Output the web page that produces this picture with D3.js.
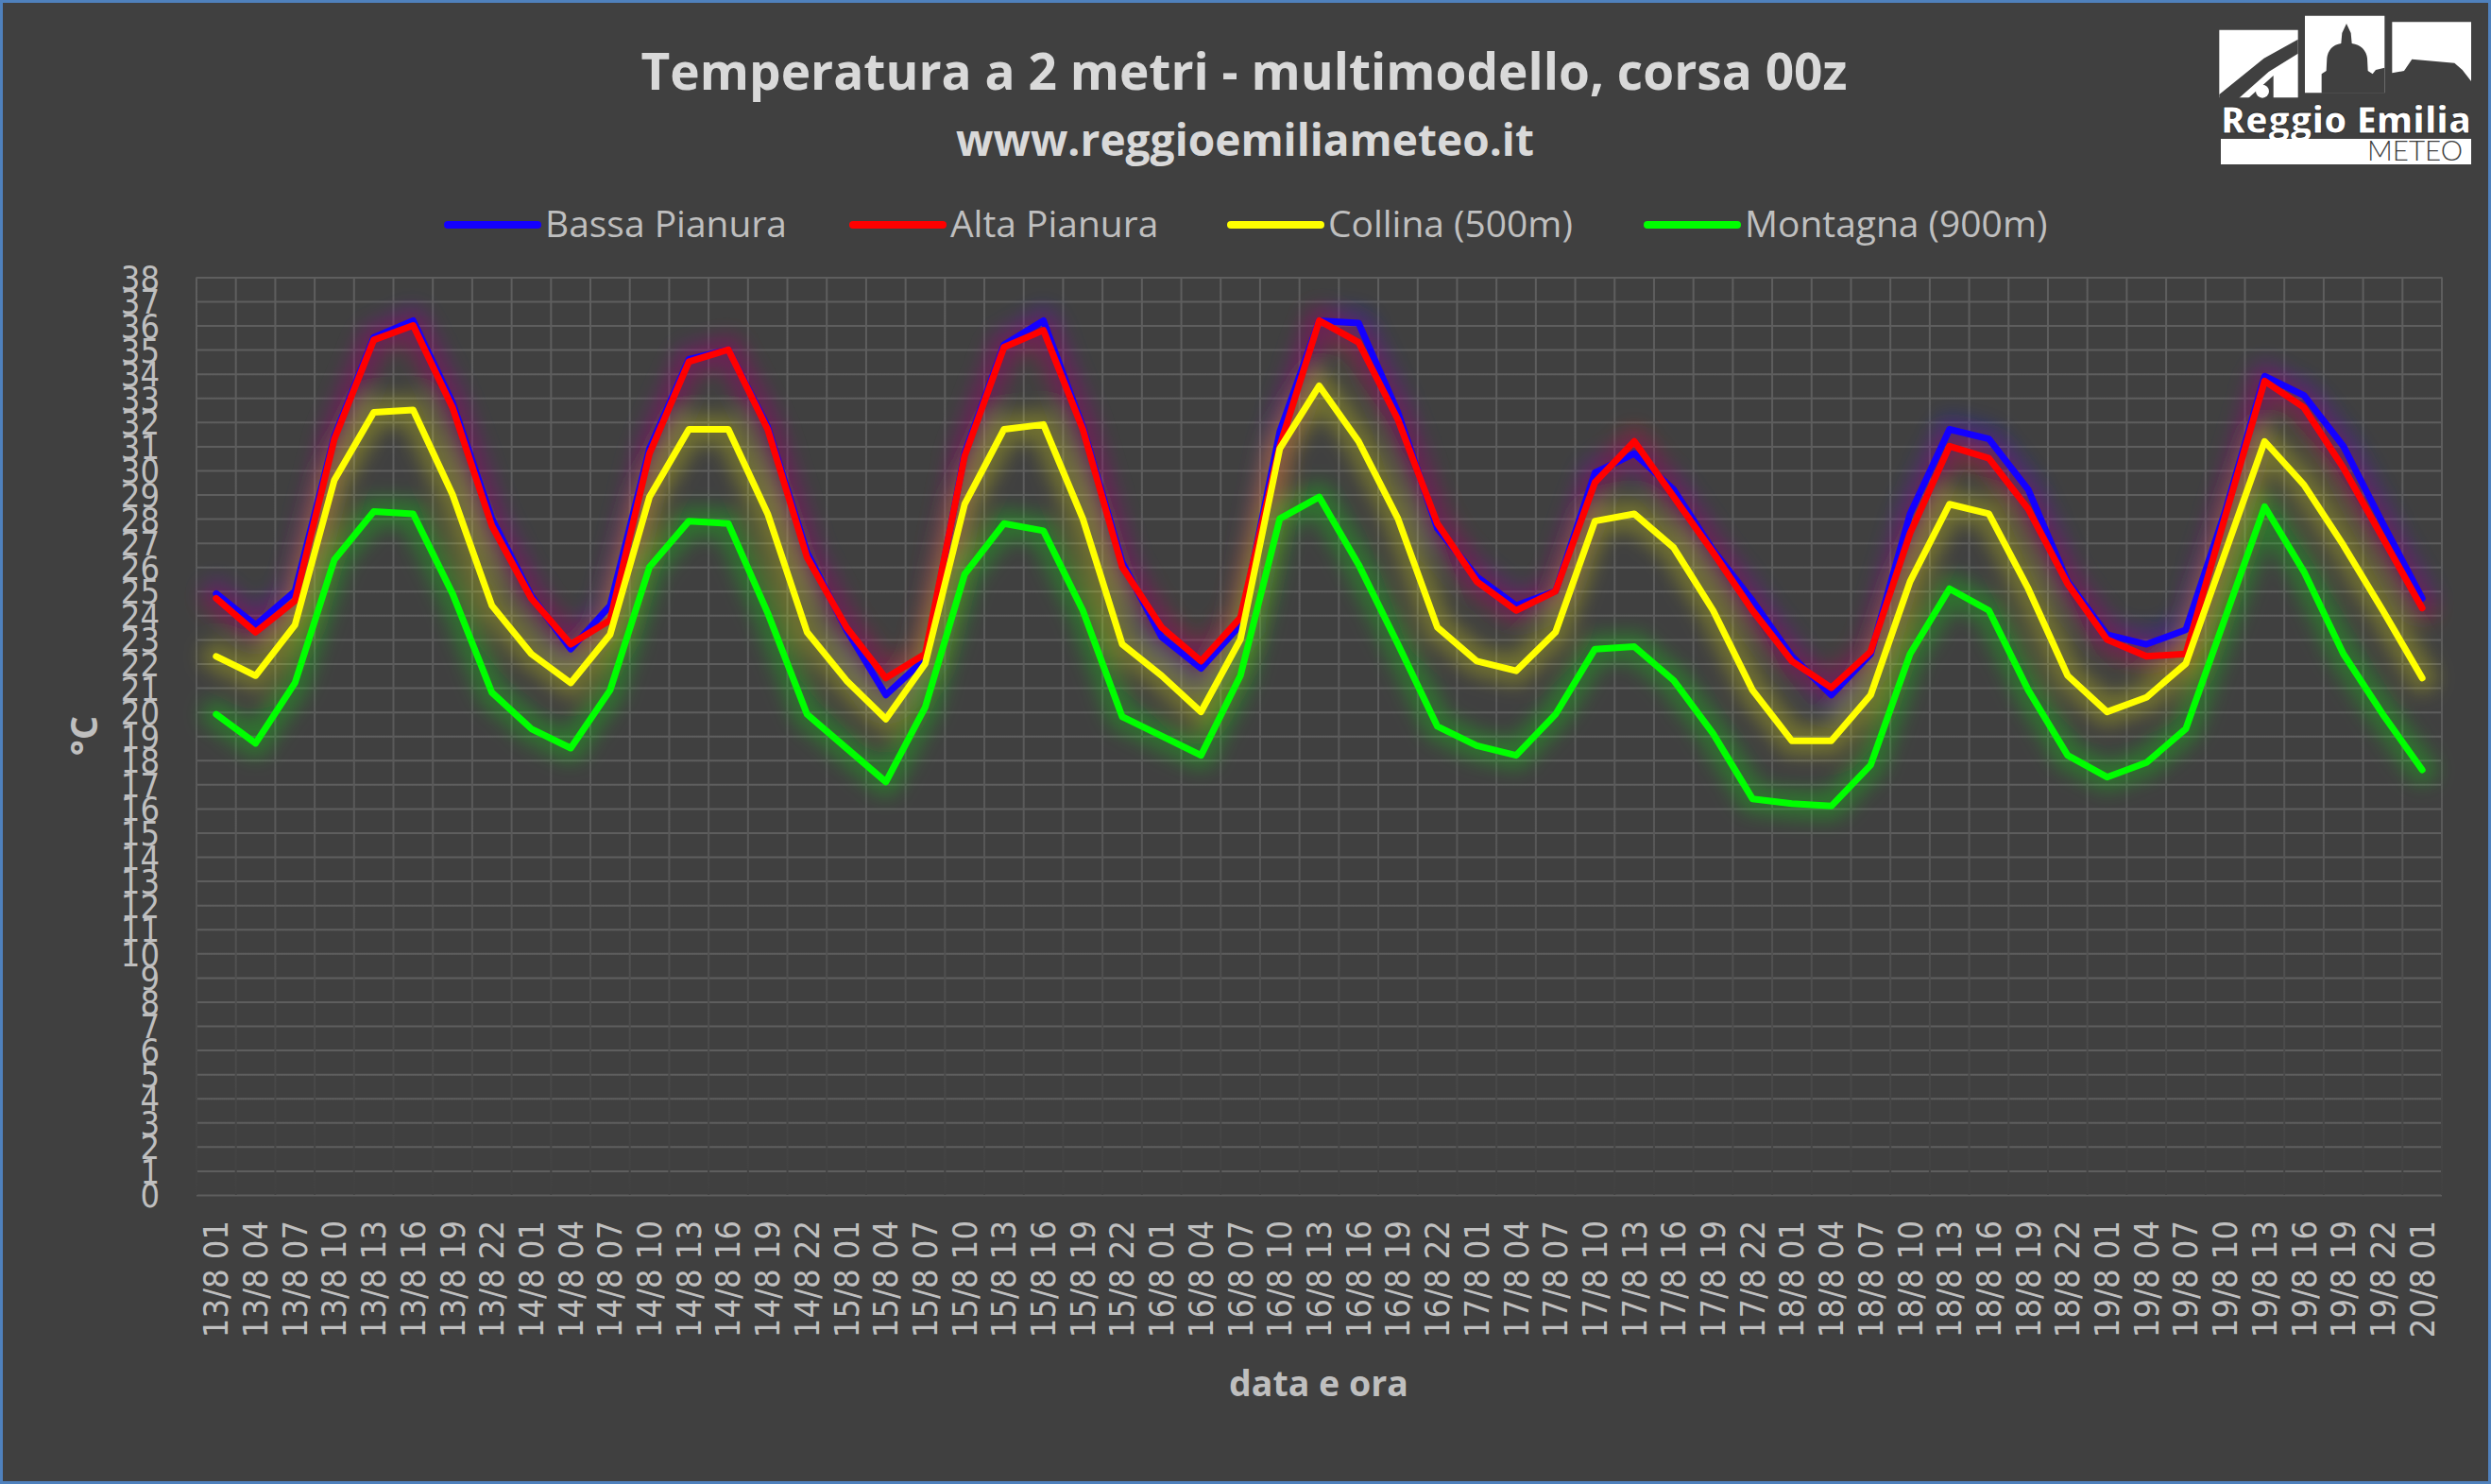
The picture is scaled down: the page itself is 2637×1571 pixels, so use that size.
<!DOCTYPE html>
<html>
<head>
<meta charset="utf-8">
<script src="https://cdn.jsdelivr.net/npm/d3@7"></script>
<style>
  html, body { margin: 0; padding: 0; background: #404040; }
  svg { display: block; }
</style>
</head>
<body>
<svg id="chart" width="2637" height="1571"></svg>
<script>
// ---------- DATA ----------
const categories = [
  "13/8 01","13/8 04","13/8 07","13/8 10","13/8 13","13/8 16","13/8 19","13/8 22",
  "14/8 01","14/8 04","14/8 07","14/8 10","14/8 13","14/8 16","14/8 19","14/8 22",
  "15/8 01","15/8 04","15/8 07","15/8 10","15/8 13","15/8 16","15/8 19","15/8 22",
  "16/8 01","16/8 04","16/8 07","16/8 10","16/8 13","16/8 16","16/8 19","16/8 22",
  "17/8 01","17/8 04","17/8 07","17/8 10","17/8 13","17/8 16","17/8 19","17/8 22",
  "18/8 01","18/8 04","18/8 07","18/8 10","18/8 13","18/8 16","18/8 19","18/8 22",
  "19/8 01","19/8 04","19/8 07","19/8 10","19/8 13","19/8 16","19/8 19","19/8 22",
  "20/8 01"
];

const bassaPianura = [
  24.9, 23.6, 25.0, 31.4, 35.5, 36.2, 32.8, 28.0,
  24.8, 22.6, 24.4, 30.9, 34.6, 35.0, 31.8, 26.6,
  23.4, 20.7, 22.2, 30.7, 35.2, 36.2, 31.8, 26.2,
  23.1, 21.8, 23.6, 31.6, 36.2, 36.1, 32.4, 27.6,
  25.6, 24.4, 25.0, 29.9, 30.7, 29.2, 26.7, 24.6,
  22.3, 20.7, 22.4, 28.2, 31.7, 31.3, 29.2, 25.4,
  23.2, 22.8, 23.4, 28.3, 33.9, 33.1, 31.0, 27.8,
  24.7
];

const altaPianura = [
  24.7, 23.3, 24.6, 31.3, 35.4, 36.0, 32.6, 27.7,
  24.7, 22.8, 23.8, 30.7, 34.5, 35.0, 31.7, 26.4,
  23.5, 21.4, 22.4, 30.6, 35.1, 35.8, 31.7, 26.0,
  23.5, 22.1, 23.9, 31.0, 36.2, 35.3, 32.1, 27.8,
  25.4, 24.2, 25.0, 29.5, 31.2, 28.9, 26.6, 24.2,
  22.1, 21.0, 22.5, 27.4, 31.0, 30.5, 28.4, 25.3,
  23.0, 22.3, 22.4, 28.1, 33.7, 32.6, 30.1, 27.2,
  24.3
];

const collina = [
  22.3, 21.5, 23.6, 29.6, 32.4, 32.5, 29.0, 24.4,
  22.4, 21.2, 23.2, 28.9, 31.7, 31.7, 28.2, 23.3,
  21.3, 19.7, 22.0, 28.6, 31.7, 31.9, 28.0, 22.8,
  21.5, 20.0, 23.0, 30.9, 33.5, 31.2, 28.0, 23.5,
  22.1, 21.7, 23.3, 27.9, 28.2, 26.8, 24.2, 20.9,
  18.8, 18.8, 20.7, 25.4, 28.6, 28.2, 25.1, 21.5,
  20.0, 20.6, 22.0, 26.6, 31.2, 29.4, 26.9, 24.2,
  21.4
];

const montagna = [
  19.9, 18.7, 21.2, 26.3, 28.3, 28.2, 24.9, 20.8,
  19.3, 18.5, 20.9, 26.0, 27.9, 27.8, 24.1, 19.9,
  18.5, 17.1, 20.2, 25.7, 27.8, 27.5, 24.2, 19.8,
  19.0, 18.2, 21.5, 28.0, 28.9, 26.1, 22.8, 19.4,
  18.6, 18.2, 19.9, 22.6, 22.7, 21.3, 19.1, 16.4,
  16.2, 16.1, 17.8, 22.4, 25.1, 24.2, 20.9, 18.2,
  17.3, 17.9, 19.3, 23.9, 28.5, 25.8, 22.4, 19.9,
  17.6
];

const seriesNames  = ["Bassa Pianura", "Alta Pianura", "Collina (500m)", "Montagna (900m)"];
const seriesValues = [bassaPianura, altaPianura, collina, montagna];
const seriesColors = ["#1400ff", "#ff0000", "#ffff00", "#00ff00"];
const yTicks = d3.range(0, 39);

const titleText = "Temperatura a 2 metri - multimodello, corsa 00z";
const subtitleText = "www.reggioemiliameteo.it";
const yAxisTitle = "°C";
const xAxisTitle = "data e ora";

// ---------- LAYOUT ----------
const W = 2637, H = 1571;
const plot = { left: 208, right: 2585, top: 293.4, bottom: 1265 };
const svg = d3.select("#chart");

const defs = svg.append("defs");
const fadeGrad = defs.append("linearGradient")
  .attr("id", "gridFade").attr("gradientUnits", "userSpaceOnUse")
  .attr("x1", 0).attr("x2", 0).attr("y1", plot.top).attr("y2", plot.bottom);
fadeGrad.append("stop").attr("offset", "0%").attr("stop-color", "#5e5e5e");
fadeGrad.append("stop").attr("offset", "60%").attr("stop-color", "#595959");
fadeGrad.append("stop").attr("offset", "82%").attr("stop-color", "#4c4c4c");
fadeGrad.append("stop").attr("offset", "100%").attr("stop-color", "#414141");

const glow = defs.append("filter").attr("id", "glow")
  .attr("x", "-10%").attr("y", "-10%").attr("width", "120%").attr("height", "120%");
glow.append("feGaussianBlur").attr("stdDeviation", 10);

// background
svg.append("rect").attr("x", 0).attr("y", 0).attr("width", W).attr("height", H).attr("fill", "#404040");

const x = d3.scaleBand().domain(categories).range([plot.left, plot.right]).paddingInner(0).paddingOuter(0);
const y = d3.scaleLinear().domain([0, 38]).range([plot.bottom, plot.top]);
const cx = c => x(c) + x.bandwidth() / 2;

// horizontal grid + y labels
const yAxis = d3.axisLeft(y).tickValues(yTicks).tickSize(-(plot.right - plot.left)).tickPadding(39).tickFormat(d3.format("d"));
const gY = svg.append("g").attr("transform", `translate(${plot.left},0)`).call(yAxis);
gY.select(".domain").remove();
gY.selectAll(".tick line").attr("stroke", "url(#gridFade)").attr("stroke-width", 2);
gY.selectAll(".tick text")
  .attr("fill", "#bfbfbf")
  .style("font-family", "'DejaVu Sans Condensed', 'DejaVu Sans', sans-serif")
  .style("font-stretch", "condensed")
  .style("font-size", "36px")
  .attr("dy", "0.36em");

// vertical grid lines at band boundaries
const boundaries = categories.map(c => x(c)).concat([plot.right]);
svg.append("g").selectAll("line").data(boundaries).join("line")
  .attr("x1", d => d).attr("x2", d => d)
  .attr("y1", plot.top).attr("y2", plot.bottom)
  .attr("stroke", "url(#gridFade)").attr("stroke-width", 2);

// x labels
const xAxis = d3.axisBottom(x).tickSize(0).tickPadding(0);
const gX = svg.append("g").attr("transform", `translate(0,${plot.bottom})`).call(xAxis);
gX.select(".domain").remove();
gX.selectAll(".tick text")
  .attr("fill", "#bfbfbf")
  .style("font-family", "'DejaVu Sans Condensed', 'DejaVu Sans', sans-serif")
  .style("font-stretch", "condensed")
  .style("font-size", "36px")
  .attr("text-anchor", "end")
  .attr("dominant-baseline", "central")
  .attr("dy", null)
  .attr("y", 0)
  .attr("transform", "translate(0,27) rotate(-90)");

// lines
const line = d3.line().x((d, i) => cx(categories[i])).y(d => y(d));
const glowG = svg.append("g").attr("filter", "url(#glow)");
seriesValues.forEach((vals, k) => {
  glowG.append("path").datum(vals).attr("d", line)
    .attr("fill", "none").attr("stroke", seriesColors[k])
    .attr("stroke-width", 30).attr("stroke-opacity", 0.26)
    .attr("stroke-linejoin", "round").attr("stroke-linecap", "round");
});
const linesG = svg.append("g");
seriesValues.forEach((vals, k) => {
  linesG.append("path").datum(vals).attr("d", line)
    .attr("fill", "none").attr("stroke", seriesColors[k])
    .attr("stroke-width", 7)
    .attr("stroke-linejoin", "round").attr("stroke-linecap", "round");
});

// helper to fit text width
function fit(sel, target) {
  const w = sel.node().getComputedTextLength();
  const fs = parseFloat(sel.style("font-size"));
  sel.style("font-size", (fs * target / w) + "px");
}

// titles
const title = svg.append("text").text(titleText)
  .attr("x", 1317).attr("y", 95).attr("text-anchor", "middle")
  .attr("fill", "#d9d9d9")
  .style("font-family", "'Open Sans', sans-serif").style("font-weight", 700).style("font-size", "52px");
fit(title, 1277);

const subtitle = svg.append("text").text(subtitleText)
  .attr("x", 1318).attr("y", 165).attr("text-anchor", "middle")
  .attr("fill", "#d9d9d9")
  .style("font-family", "'Open Sans', sans-serif").style("font-weight", 700).style("font-size", "44px");
fit(subtitle, 612);

// legend
const legendLineX = [474, 903, 1303, 1744];
const legend = svg.append("g");
let legendFont = null;
seriesNames.forEach((name, k) => {
  const lx = legendLineX[k];
  legend.append("line")
    .attr("x1", lx).attr("x2", lx + 95).attr("y1", 238).attr("y2", 238)
    .attr("stroke", seriesColors[k]).attr("stroke-width", 8).attr("stroke-linecap", "round");
  const t = legend.append("text").text(name)
    .attr("x", lx + 103).attr("y", 251)
    .attr("fill", "#bfbfbf")
    .style("font-family", "'Open Sans', sans-serif").style("font-size", "38px");
  if (k === 0) { fit(t, 256); legendFont = t.style("font-size"); }
  else t.style("font-size", legendFont);
});

// axis titles
svg.append("text").text(yAxisTitle)
  .attr("transform", "translate(87,779) rotate(-90)")
  .attr("text-anchor", "middle").attr("dominant-baseline", "central")
  .attr("fill", "#bfbfbf")
  .style("font-family", "'Open Sans', sans-serif").style("font-weight", 700).style("font-size", "40px");

const xt = svg.append("text").text(xAxisTitle)
  .attr("x", 1396).attr("y", 1478).attr("text-anchor", "middle")
  .attr("fill", "#bfbfbf")
  .style("font-family", "'Open Sans', sans-serif").style("font-weight", 700).style("font-size", "40px");
fit(xt, 190);

// logo (decorative)
const logo = svg.append("g");
const L = (ox, oy) => [2330 + ox / 3, oy / 3];
const poly = pts => "M" + pts.map(p => L(p[0], p[1]).join(",")).join("L") + "Z";
// left panel
logo.append("path").attr("d", poly([[58,95],[308,95],[308,310],[58,310]])).attr("fill", "#ffffff");
logo.append("path").attr("d", poly([[58,300],[58,312],[120,312],[215,228],[308,170],[308,125],[200,185]])).attr("fill", "#404040");
logo.append("path").attr("d", poly([[150,312],[230,240],[230,312]])).attr("fill", "#404040");
logo.append("circle").attr("cx", L(195,290)[0]).attr("cy", L(195,290)[1]).attr("r", 7).attr("fill", "#ffffff");
// middle panel with dome
logo.append("path").attr("d", poly([[330,50],[583,50],[583,295],[330,295]])).attr("fill", "#ffffff");
logo.append("path").attr("d",
  "M" + L(383,296).join(",") +
  "L" + L(383,235).join(",") + "L" + L(398,225).join(",") + "L" + L(400,185).join(",") +
  "Q" + L(405,145).join(",") + " " + L(445,138).join(",") +
  "L" + L(448,105).join(",") + "L" + L(455,90).join(",") + "L" + L(462,75).join(",") +
  "L" + L(469,90).join(",") + "L" + L(476,105).join(",") + "L" + L(479,138).join(",") +
  "Q" + L(522,145).join(",") + " " + L(528,185).join(",") +
  "L" + L(530,225).join(",") + "L" + L(545,235).join(",") + "L" + L(555,222).join(",") +
  "L" + L(583,215).join(",") + "L" + L(583,296).join(",") + "Z").attr("fill", "#404040");
// right panel with building silhouette
logo.append("path").attr("d", poly([[607,70],[858,70],[858,258],[830,222],[805,200],[670,188],[645,225],[607,232]])).attr("fill", "#ffffff");
// Reggio Emilia text
const logoT = logo.append("text").text("Reggio Emilia")
  .attr("x", 2351).attr("y", 141)
  .attr("fill", "#ffffff").attr("stroke", "#2a2a2a").attr("stroke-width", 1)
  .style("font-family", "'Open Sans', sans-serif").style("font-weight", 800).style("font-size", "40px");
fit(logoT, 265);
// METEO bar
logo.append("rect").attr("x", 2351).attr("y", 147).attr("width", 265).attr("height", 27).attr("fill", "#ffffff");
const met = logo.append("text").text("METEO")
  .attr("x", 2607).attr("y", 170).attr("text-anchor", "end")
  .attr("fill", "#404040")
  .style("font-family", "'Lato', sans-serif").style("font-weight", 300).style("font-size", "24px");
fit(met, 101);

// outer border
svg.append("rect").attr("x", 1.5).attr("y", 1.5).attr("width", W - 3).attr("height", H - 3)
  .attr("fill", "none").attr("stroke", "#4f81bd").attr("stroke-width", 3);
</script>
</body>
</html>
